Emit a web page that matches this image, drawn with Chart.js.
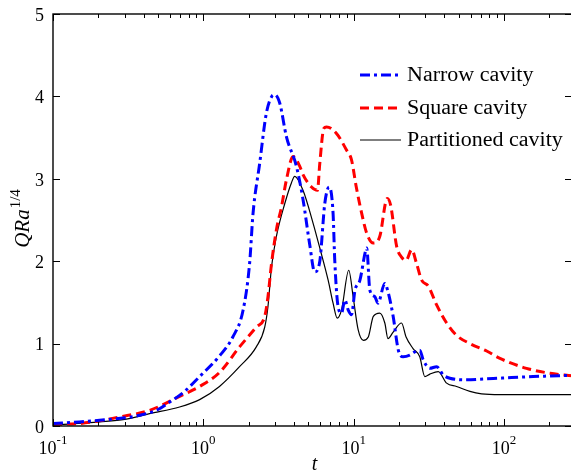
<!DOCTYPE html>
<html>
<head>
<meta charset="utf-8">
<script src="https://cdn.jsdelivr.net/npm/chart.js@4/dist/chart.umd.min.js"></script>
<style>
  html, body { margin: 0; padding: 0; background: #fff; overflow: hidden; }
  #wrap { width: 580px; height: 472px; }
</style>
</head>
<body>
<div id="wrap"><canvas id="chart" width="580" height="472"></canvas></div>
<script>
// Narrow cavity (blue, dash-dot)
const narrowT = [0.1, 0.15, 0.204, 0.3, 0.377, 0.5, 0.597, 0.75, 0.945, 1.28, 1.57, 1.84, 2.03, 2.14, 2.37, 2.62, 2.85, 2.98, 3.22, 3.57, 4.16, 4.6, 5.1, 5.5, 5.95, 6.42, 6.86, 7.29, 7.48, 7.87, 8.3, 8.73, 9.18, 9.67, 10.2, 11.0, 11.9, 12.2, 12.8, 13.8, 14.5, 16.1, 16.9, 18.3, 19.8, 21.3, 23.6, 25.5, 27.5, 29.0, 32.1, 35.6, 39.4, 43.6, 56.4, 72.7, 93.9, 156, 283];
const narrowQ = [0.03, 0.05, 0.07, 0.10, 0.13, 0.20, 0.29, 0.42, 0.60, 0.85, 1.08, 1.41, 1.97, 2.58, 3.19, 3.79, 4.00, 4.02, 3.92, 3.51, 3.15, 2.75, 2.20, 1.87, 2.00, 2.70, 2.90, 2.58, 2.01, 1.45, 1.37, 1.53, 1.41, 1.35, 1.65, 1.77, 2.10, 2.16, 1.65, 1.57, 1.49, 1.73, 1.63, 1.33, 0.92, 0.84, 0.86, 0.90, 0.92, 0.80, 0.70, 0.72, 0.62, 0.58, 0.56, 0.57, 0.58, 0.60, 0.615];

// Square cavity (red, dashed)
const squareT = [0.1, 0.15, 0.2, 0.277, 0.439, 0.695, 0.945, 1.28, 1.74, 2.25, 2.56, 2.69, 2.84, 3.06, 3.31, 3.57, 3.95, 4.38, 4.6, 5.24, 5.74, 5.95, 6.32, 6.59, 7.68, 8.95, 9.67, 10.4, 11.3, 12.2, 13.5, 14.9, 16.7, 17.6, 19.3, 20.8, 22.3, 24.3, 26.2, 28.3, 31.3, 35.6, 41.5, 48.3, 59.3, 76.6, 93.9, 141, 202, 283];
const squareQ = [0.02, 0.03, 0.06, 0.11, 0.19, 0.36, 0.48, 0.65, 0.96, 1.20, 1.33, 1.57, 1.97, 2.38, 2.66, 2.99, 3.27, 3.15, 3.05, 2.90, 2.86, 3.19, 3.61, 3.63, 3.55, 3.35, 3.23, 2.90, 2.58, 2.34, 2.22, 2.30, 2.76, 2.68, 2.18, 2.05, 2.01, 2.14, 1.97, 1.77, 1.70, 1.47, 1.25, 1.10, 1.00, 0.91, 0.82, 0.70, 0.64, 0.61];

// Partitioned cavity (black, solid)
const partT = [0.1, 0.204, 0.3, 0.439, 0.695, 0.945, 1.28, 1.74, 2.25, 2.56, 2.69, 2.84, 3.06, 3.48, 3.85, 4.05, 4.6, 5.37, 5.95, 6.76, 7.29, 7.76, 8.3, 9.27, 9.91, 10.7, 11.6, 12.5, 13.5, 14.9, 16.1, 16.9, 18.3, 20.8, 22.3, 24.8, 27.5, 29.7, 32.1, 36.5, 41.5, 48.3, 59.3, 70.9, 93.9, 283];
const partQ = [0.01, 0.05, 0.08, 0.15, 0.23, 0.32, 0.48, 0.72, 0.96, 1.20, 1.45, 1.93, 2.30, 2.70, 2.95, 3.03, 2.86, 2.46, 2.16, 1.77, 1.49, 1.31, 1.41, 1.89, 1.57, 1.17, 1.04, 1.08, 1.33, 1.37, 1.25, 1.06, 1.14, 1.25, 1.08, 0.94, 0.84, 0.60, 0.63, 0.66, 0.52, 0.48, 0.42, 0.39, 0.38, 0.38];

const seriesNames = ['Narrow cavity', 'Square cavity', 'Partitioned cavity'];
const yTicks = [0, 1, 2, 3, 4, 5];
const xDecades = [-1, 0, 1, 2];

const serif = '"Liberation Serif", "Times New Roman", serif';

function toPoints(ts, qs) {
    return ts.map((t, i) => ({ x: t, y: qs[i] }));
}

// axes, ticks, labels and legend drawn by hand (inward ticks, box frame)
const frame = {
    id: 'frame',
    afterDraw(chart) {
        const ctx = chart.ctx;
        const area = chart.chartArea;
        const xs = chart.scales.x;
        const ys = chart.scales.y;
        ctx.save();
        ctx.strokeStyle = '#000';
        ctx.fillStyle = '#000';
        ctx.lineWidth = 1.4;
        ctx.strokeRect(area.left, area.top, area.right - area.left, area.bottom - area.top);

        ctx.lineWidth = 1;
        // x ticks (log)
        xDecades.forEach(d => {
            for (let m = 1; m <= 9; m++) {
                const v = m * Math.pow(10, d);
                if (v < xs.min || v > xs.max) continue;
                const px = Math.round(xs.getPixelForValue(v)) + 0.5;
                const len = m === 1 ? 7 : 4;
                ctx.beginPath();
                ctx.moveTo(px, area.bottom);
                ctx.lineTo(px, area.bottom - len);
                ctx.moveTo(px, area.top);
                ctx.lineTo(px, area.top + len);
                ctx.stroke();
            }
        });
        // y ticks
        yTicks.forEach(v => {
            const py = Math.round(ys.getPixelForValue(v)) + 0.5;
            ctx.beginPath();
            ctx.moveTo(area.left, py);
            ctx.lineTo(area.left + 7, py);
            ctx.moveTo(area.right, py);
            ctx.lineTo(area.right - 7, py);
            ctx.stroke();
        });

        // y tick labels
        ctx.font = '18px ' + serif;
        ctx.textAlign = 'right';
        ctx.textBaseline = 'middle';
        yTicks.forEach(v => {
            ctx.fillText(String(v), area.left - 9, ys.getPixelForValue(v) + 2);
        });

        // x tick labels 10^d
        xDecades.forEach(d => {
            const px = xs.getPixelForValue(Math.pow(10, d));
            const base = '10';
            const sup = d < 0 ? '-' + Math.abs(d) : String(d);
            ctx.font = '18px ' + serif;
            const wb = ctx.measureText(base).width;
            ctx.font = '13px ' + serif;
            const ws = ctx.measureText(sup).width;
            const x0 = px - (wb + ws) / 2;
            ctx.textAlign = 'left';
            ctx.textBaseline = 'alphabetic';
            ctx.font = '18px ' + serif;
            ctx.fillText(base, x0, 454);
            ctx.font = '13px ' + serif;
            ctx.fillText(sup, x0 + wb, 444);
        });

        // x axis title
        ctx.font = 'italic 20px ' + serif;
        ctx.textAlign = 'center';
        ctx.fillText('t', (xs.getPixelForValue(5) + xs.getPixelForValue(6)) / 2, 470);

        // y axis title QRa^{1/4}
        ctx.save();
        ctx.translate(29, 219);
        ctx.rotate(-Math.PI / 2);
        ctx.font = 'italic 21px ' + serif;
        const main = 'QRa';
        const wm = ctx.measureText(main).width;
        ctx.font = '15px ' + serif;
        const wsup = ctx.measureText('1/4').width;
        const sx = -(wm + wsup) / 2;
        ctx.textAlign = 'left';
        ctx.font = 'italic 21px ' + serif;
        ctx.fillText(main, sx, 0);
        ctx.font = '15px ' + serif;
        ctx.fillText('1/4', sx + wm + 1, -9);
        ctx.restore();

        // legend
        const rows = [75, 108, 140];
        chart.data.datasets.forEach((ds, i) => {
            const y = rows[i];
            ctx.save();
            ctx.strokeStyle = ds.borderColor;
            ctx.lineWidth = ds.borderWidth;
            ctx.setLineDash(ds.borderDash || []);
            ctx.beginPath();
            ctx.moveTo(360, y);
            ctx.lineTo(401, y);
            ctx.stroke();
            ctx.restore();
            // text in the source is a little wider than plain Times
            ctx.save();
            ctx.translate(407, y + 1);
            ctx.scale(1.1, 1);
            ctx.font = '20px ' + serif;
            ctx.textAlign = 'left';
            ctx.textBaseline = 'middle';
            ctx.fillText(ds.label, 0, 0);
            ctx.restore();
        });
        ctx.restore();
    }
};

new Chart(document.getElementById('chart').getContext('2d'), {
    type: 'scatter',
    data: {
        datasets: [{
            label: seriesNames[0],
            data: toPoints(narrowT, narrowQ),
            showLine: true,
            borderColor: '#0000ff',
            borderWidth: 3,
            borderDash: [10, 4, 3, 4],
            pointRadius: 0,
            cubicInterpolationMode: 'monotone'
        }, {
            label: seriesNames[1],
            data: toPoints(squareT, squareQ),
            showLine: true,
            borderColor: '#ff0000',
            borderWidth: 3,
            borderDash: [9, 5],
            pointRadius: 0,
            cubicInterpolationMode: 'monotone'
        }, {
            label: seriesNames[2],
            data: toPoints(partT, partQ),
            showLine: true,
            borderColor: '#000000',
            borderWidth: 1.2,
            pointRadius: 0,
            cubicInterpolationMode: 'monotone'
        }]
    },
    options: {
        responsive: false,
        animation: false,
        events: [],
        layout: { padding: { left: 53, right: 8, top: 14, bottom: 46 } },
        plugins: { legend: { display: false }, tooltip: { enabled: false } },
        scales: {
            x: { type: 'logarithmic', min: 0.1, max: 283, display: false },
            y: { type: 'linear', min: 0, max: 5, display: false }
        }
    },
    plugins: [frame]
});
</script>
</body>
</html>
